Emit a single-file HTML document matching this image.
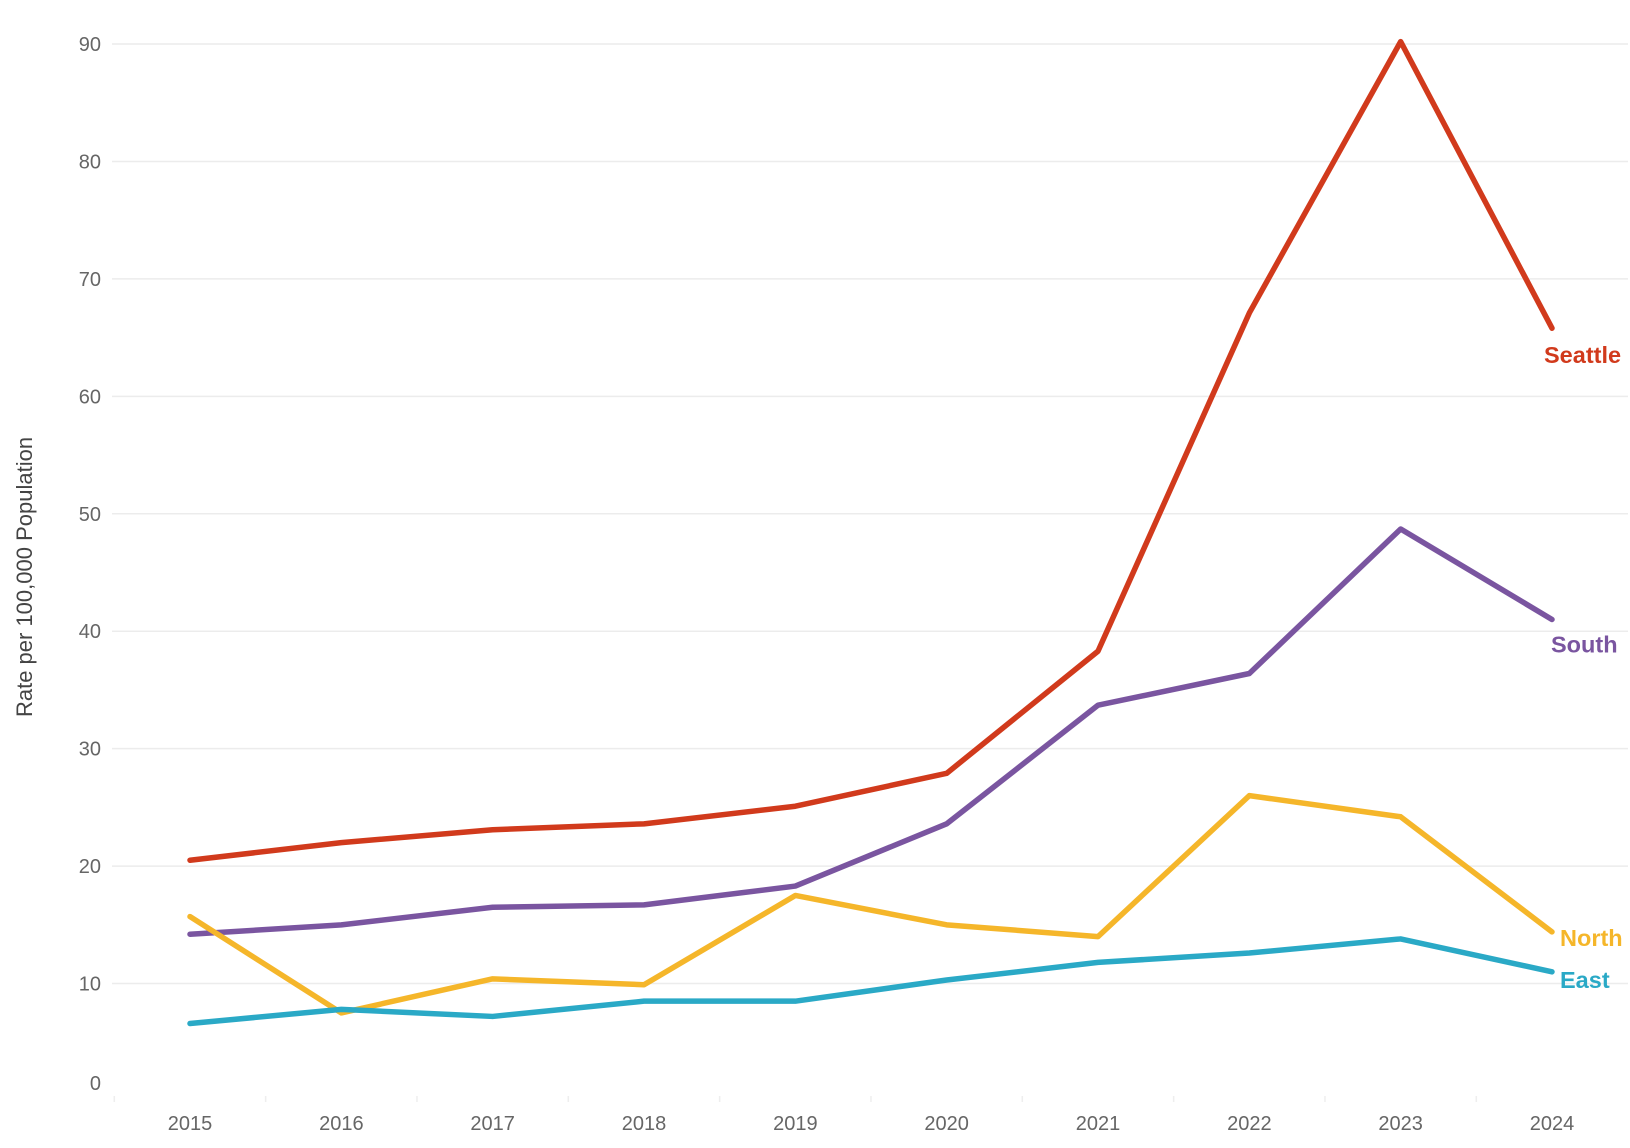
<!DOCTYPE html>
<html><head><meta charset="utf-8"><style>
body{margin:0;background:#fff;}
svg{display:block;font-family:"Liberation Sans",sans-serif;}
</style></head><body>
<svg id="chart" width="1630" height="1148"></svg>
<script>
const years=[2015,2016,2017,2018,2019,2020,2021,2022,2023,2024];
const seattle=[20.5,22,23.1,23.6,25.1,27.9,38.3,67.1,90.2,65.8];
const south=[14.2,15,16.5,16.7,18.3,23.6,33.7,36.4,48.7,41];
const north=[15.7,7.5,10.4,9.9,17.5,15,14,26,24.2,14.4];
const east=[6.6,7.8,7.2,8.5,8.5,10.3,11.8,12.6,13.8,11];
const yTicks=[0,10,20,30,40,50,60,70,80,90];
const seriesNames=["Seattle","South","North","East"];
const NS="http://www.w3.org/2000/svg";
const svg=document.getElementById('chart');
const x=i=>190+i*(1552-190)/9;
const y=v=>1101-v*(1101-44)/90;
function mk(t,a,p){const e=document.createElementNS(NS,t);for(const k in a)e.setAttribute(k,a[k]);(p||svg).appendChild(e);return e;}
yTicks.forEach(v=>{
  if(v>0){const g=mk('line',{x1:112,x2:1628,y1:y(v),y2:y(v),stroke:'#ececec','stroke-width':1.5});
  
  }
  const t=mk('text',{x:101,y:v===0?y(v)-11:y(v)+7,'text-anchor':'end','font-size':20,fill:'#666'});
  t.textContent=v;
  
  
});
years.forEach((yr,i)=>{
  const t=mk('text',{x:x(i),y:1130,'text-anchor':'middle','font-size':20,fill:'#666'});
  t.textContent=yr;
  
  
  const tk=mk('line',{x1:x(i)-75.7,x2:x(i)-75.7,y1:1096,y2:1102,stroke:'#eee','stroke-width':1.5});
  
  
});
const yt=mk('text',{transform:'translate(32,577) rotate(-90)','text-anchor':'middle','font-size':22,fill:'#444'});
yt.textContent='Rate per 100,000 Population';


const series=[[seattle,'#d13a1c',1544],[south,'#7a55a0',1551],[north,'#f5b62a',1560],[east,'#2aa9c6',1560]];
const labelDy=[35,33,14,16];
series.forEach((s,k)=>{
  const d=s[0].map((v,i)=>(i?'L':'M')+x(i)+','+y(v)).join(' ');
  const p=mk('path',{d:d,fill:'none',stroke:s[1],'stroke-width':5.5,'stroke-linejoin':'round','stroke-linecap':'round'});
  
  
  const last=s[0][s[0].length-1];
  const t=mk('text',{x:s[2],y:y(last)+labelDy[k],'font-size':23.5,'font-weight':'bold',fill:s[1]});
  t.textContent=seriesNames[k];
  
  
});
</script>
</body></html>
